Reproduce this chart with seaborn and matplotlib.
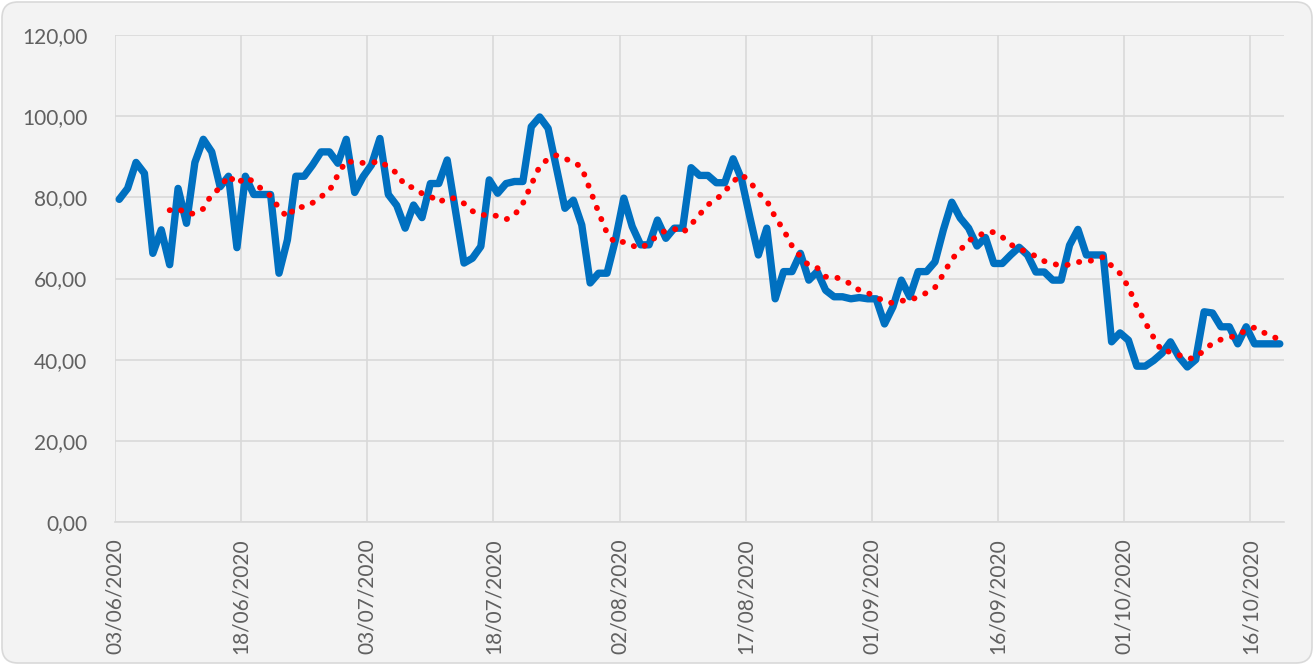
import pandas as pd
import matplotlib.pyplot as plt
import matplotlib.transforms as mtransforms
from matplotlib.patches import FancyBboxPatch
import seaborn as sns

# Daily values, 03/06/2020 .. 19/10/2020
start_date = "2020-06-03"
price = [
    79.5, 82.2, 88.6, 85.9, 66.2, 72.0, 63.4, 82.2, 73.6, 88.6,
    94.3, 91.2, 82.6, 85.2, 67.6, 85.2, 80.7, 80.7, 80.7, 61.3,
    69.5, 85.2, 85.2, 88.0, 91.2, 91.2, 88.4, 94.3, 81.2, 85.1,
    88.0, 94.5, 80.7, 78.0, 72.4, 78.1, 75.0, 83.4, 83.4, 89.2,
    76.5, 63.8, 65.0, 67.9, 84.3, 81.0, 83.4, 83.9, 83.9, 97.4,
    99.8, 97.0, 87.1, 77.3, 79.3, 73.2, 58.9, 61.3, 61.3, 69.5,
    79.8, 72.8, 68.3, 68.3, 74.4, 69.9, 72.4, 72.4, 87.3, 85.4,
    85.4, 83.6, 83.6, 89.5, 84.5, 75.0, 65.8, 72.4, 55.0, 61.7,
    61.7, 66.2, 59.6, 61.7, 57.1, 55.5, 55.5, 55.0, 55.3, 55.0,
    55.0, 48.8, 53.0, 59.6, 55.5, 61.7, 61.7, 64.1, 72.0, 78.8,
    74.9, 72.4, 68.0, 70.1, 63.7, 63.7, 65.8, 67.7, 65.8, 61.6,
    61.6, 59.6, 59.6, 68.2, 72.1, 65.8, 65.8, 65.8, 44.4, 46.6,
    44.8, 38.4, 38.4, 39.8, 41.6, 44.4, 40.7, 38.2, 40.0, 51.8,
    51.5, 48.1, 48.1, 43.9, 48.1, 43.9, 43.9, 43.9, 43.9,
]
ma_window = 7          # moving-average trendline period
y_ticks = [0, 20, 40, 60, 80, 100, 120]
tick_step_days = 15

dates = pd.date_range(start_date, periods=len(price), freq="D")
df = pd.DataFrame({"date": dates, "value": price})
df["trend"] = df["value"].rolling(ma_window).mean()

bg_color = "#F3F3F3"
grid_color = "#D9D9D9"
text_color = "#606060"

sns.set_style("whitegrid", {"axes.facecolor": bg_color, "grid.color": grid_color})
plt.rcParams["font.family"] = ["Lato", "DejaVu Sans"]

W, H = 1314, 665
fig = plt.figure(figsize=(W / 100, H / 100), dpi=100)
fig.patch.set_facecolor("white")

# rounded chart-area frame, in pixels, behind the axes
frame = FancyBboxPatch((2, 2), W - 4, H - 4, boxstyle="round,pad=0,rounding_size=16",
                       transform=mtransforms.IdentityTransform(),
                       facecolor=bg_color, edgecolor=grid_color, lw=1.2, zorder=-10)
fig.patches.append(frame)

ax = fig.add_axes([115 / W, 1 - 522 / H, (1284 - 115) / W, (522 - 35) / H])
ax.set_facecolor(bg_color)

sns.lineplot(data=df, x="date", y="value", color="#0070C0", lw=5.3,
             solid_joinstyle="round", solid_capstyle="round", ax=ax)
trend = df.dropna()
sns.lineplot(data=trend, x="date", y="trend", color="#FF0000", lw=4.2,
             linestyle=(0, (0.05, 2.0)), dash_capstyle="round", ax=ax)

half_day = pd.Timedelta(hours=12)
ax.set_xlim(dates[0] - half_day, dates[-1] + half_day)
ax.set_ylim(y_ticks[0], y_ticks[-1])

tick_dates = dates[::tick_step_days]
ax.set_xticks(tick_dates - half_day)
ax.set_xticklabels(tick_dates.strftime("%d/%m/%Y"), rotation=90)
ax.set_yticks(y_ticks)
ax.set_yticklabels([f"{v:.2f}".replace(".", ",") for v in y_ticks])

ax.grid(True, color=grid_color, lw=1.2)
for side in ["left", "right", "top"]:
    ax.spines[side].set_visible(False)
ax.spines["bottom"].set_color(grid_color)
ax.spines["bottom"].set_linewidth(1.2)
ax.tick_params(axis="x", length=6, color=grid_color, width=1.2, pad=6,
               labelsize=15, labelcolor=text_color)
ax.tick_params(axis="y", length=0, pad=20, labelsize=15, labelcolor=text_color)
ax.set_xlabel("")
ax.set_ylabel("")

fig.savefig("out.png", dpi=100, facecolor=fig.get_facecolor())
